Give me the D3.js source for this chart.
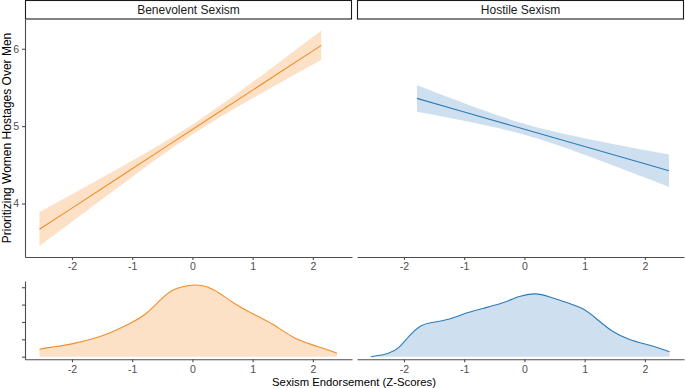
<!DOCTYPE html>
<html>
<head>
<meta charset="utf-8">
<script src="https://cdn.jsdelivr.net/npm/d3@7"></script>
<style>
  body { margin: 0; background: #fff; }
  svg { font-family: 'Liberation Sans', Arial, sans-serif; }
  .axis path, .axis line { stroke: #4d4d4d; stroke-width: 1.1; }
  .axis text { fill: #4d4d4d; font-size: 10.5px; }
</style>
</head>
<body>
<script>
// panel titles
const panels = ['Benevolent Sexism', 'Hostile Sexism']

// regression fit + 95% band
const benZ = [-2.54, -2.0, -1.5, -1.0, -0.5, 0, 0.5, 1.0, 1.5, 2.0, 2.14]
const benFit = [3.667, 3.941, 4.195, 4.449, 4.703, 4.957, 5.211, 5.465, 5.719, 5.973, 6.044]
const benLo = [3.45, 3.763, 4.055, 4.344, 4.626, 4.892, 5.134, 5.36, 5.579, 5.795, 5.855]
const benHi = [3.89, 4.119, 4.335, 4.554, 4.78, 5.022, 5.288, 5.57, 5.859, 6.151, 6.233]

const hosZ = [-1.785, -1.0, 0, 1.0, 2.0, 2.4]
const hosFit = [5.359, 5.183, 4.96, 4.737, 4.513, 4.424]
const hosLo = [5.187, 5.069, 4.89, 4.631, 4.335, 4.214]
const hosHi = [5.531, 5.297, 5.03, 4.843, 4.691, 4.634]

// density curves
const benDensZ = [-2.54, -2.36, -2.0, -1.53, -1.32, -1.04, -0.76, -0.54, -0.32, 0.01, 0.24, 0.46, 0.68, 1.01, 1.34, 1.67, 2.0, 2.23, 2.4]
const benDens = [0.043, 0.054, 0.071, 0.115, 0.144, 0.19, 0.244, 0.327, 0.394, 0.417, 0.409, 0.365, 0.308, 0.244, 0.19, 0.106, 0.067, 0.043, 0.02]
const hosDensZ = [-2.55, -2.25, -2.08, -1.91, -1.72, -1.58, -1.3, -0.92, -0.64, -0.36, -0.08, 0.17, 0.42, 0.69, 0.97, 1.19, 1.47, 1.75, 2.08, 2.41]
const hosDens = [0.0, 0.016, 0.048, 0.125, 0.183, 0.196, 0.207, 0.259, 0.282, 0.308, 0.35, 0.369, 0.346, 0.313, 0.282, 0.221, 0.138, 0.096, 0.067, 0.029]

const xTicks = [-2, -1, 0, 1, 2]
const yTicks = [4, 5, 6]
const densTicks = [0, 0.1, 0.2, 0.3, 0.4]

const width = 685
const height = 388

const colors = [
  { line: '#F28E2B', fill: '#FCE1C7' },
  { line: '#2C7BB6', fill: '#CEE0EF' }
]

// plain hyphen for negatives, like the original
const fmt = d => String(d)

const svg = d3.select('body').append('svg')
  .attr('width', width)
  .attr('height', height)

const panelX = [[25, 352], [357, 684]]
const xDomain = [-2.78, 2.65]

const y = d3.scaleLinear().domain([3.309, 6.378]).range([257, 19.5])
const yd = d3.scaleLinear().domain([-0.015, 0.436]).range([359.3, 281])

const series = [
  { z: benZ, fit: benFit, lo: benLo, hi: benHi, dz: benDensZ, d: benDens },
  { z: hosZ, fit: hosFit, lo: hosLo, hi: hosHi, dz: hosDensZ, d: hosDens }
]

series.forEach(function (s, i) {
  const x = d3.scaleLinear().domain(xDomain).range(panelX[i])
  const c = colors[i]
  const pts = s.z.map((z, j) => ({ z: z, fit: s.fit[j], lo: s.lo[j], hi: s.hi[j] }))

  // strip
  const g = svg.append('g')
  g.append('rect')
    .attr('x', panelX[i][0] + 0.5).attr('y', 0.5)
    .attr('width', panelX[i][1] - panelX[i][0] - 1).attr('height', 18.5)
    .attr('fill', '#fff').attr('stroke', '#1a1a1a').attr('stroke-width', 1.1)
  g.append('text')
    .attr('x', (panelX[i][0] + panelX[i][1]) / 2).attr('y', 14)
    .attr('text-anchor', 'middle').attr('font-size', 12).attr('fill', '#1a1a1a')
    .text(panels[i])

  // confidence band and fit line
  g.append('path')
    .datum(pts)
    .attr('fill', c.fill)
    .attr('d', d3.area().curve(d3.curveNatural)
      .x(d => x(d.z)).y0(d => y(d.lo)).y1(d => y(d.hi)))
  g.append('path')
    .datum(pts)
    .attr('fill', 'none').attr('stroke', c.line).attr('stroke-width', 1.1)
    .attr('d', d3.line().x(d => x(d.z)).y(d => y(d.fit)))

  // density
  const dpts = s.dz.map((z, j) => ({ z: z, v: s.d[j] }))
  g.append('path')
    .datum(dpts)
    .attr('fill', c.fill)
    .attr('d', d3.area().curve(d3.curveBasis)
      .x(d => x(d.z)).y0(yd(0)).y1(d => yd(d.v)))
  g.append('path')
    .datum(dpts)
    .attr('fill', 'none').attr('stroke', c.line).attr('stroke-width', 1.1)
    .attr('d', d3.line().curve(d3.curveBasis).x(d => x(d.z)).y(d => yd(d.v)))

  // x axes
  svg.append('g').attr('class', 'axis')
    .attr('transform', 'translate(0,257)')
    .call(d3.axisBottom(x).tickValues(xTicks).tickSize(3).tickSizeOuter(0).tickPadding(3).tickFormat(fmt))
  svg.append('g').attr('class', 'axis')
    .attr('transform', 'translate(0,359.3)')
    .call(d3.axisBottom(x).tickValues(xTicks).tickSize(3).tickSizeOuter(0).tickPadding(3).tickFormat(fmt))
})

// y axes (left panels only)
svg.append('g').attr('class', 'axis')
  .attr('transform', 'translate(25,0)')
  .call(d3.axisLeft(y).tickValues(yTicks).tickSize(3).tickSizeOuter(0).tickPadding(3).tickFormat(fmt))
svg.append('g').attr('class', 'axis')
  .attr('transform', 'translate(25,0)')
  .call(d3.axisLeft(yd).tickValues(densTicks).tickSize(3).tickSizeOuter(0).tickFormat(''))

svg.selectAll('.axis').attr('font-family', null).attr('font-size', null)

// titles
svg.append('text')
  .attr('transform', 'translate(11,138) rotate(-90)')
  .attr('text-anchor', 'middle').attr('font-size', 12).attr('fill', '#000')
  .text('Prioritizing Women Hostages Over Men')
svg.append('text')
  .attr('x', 354).attr('y', 385.5)
  .attr('text-anchor', 'middle').attr('font-size', 11.3).attr('fill', '#000')
  .text('Sexism Endorsement (Z-Scores)')
</script>
</body>
</html>
